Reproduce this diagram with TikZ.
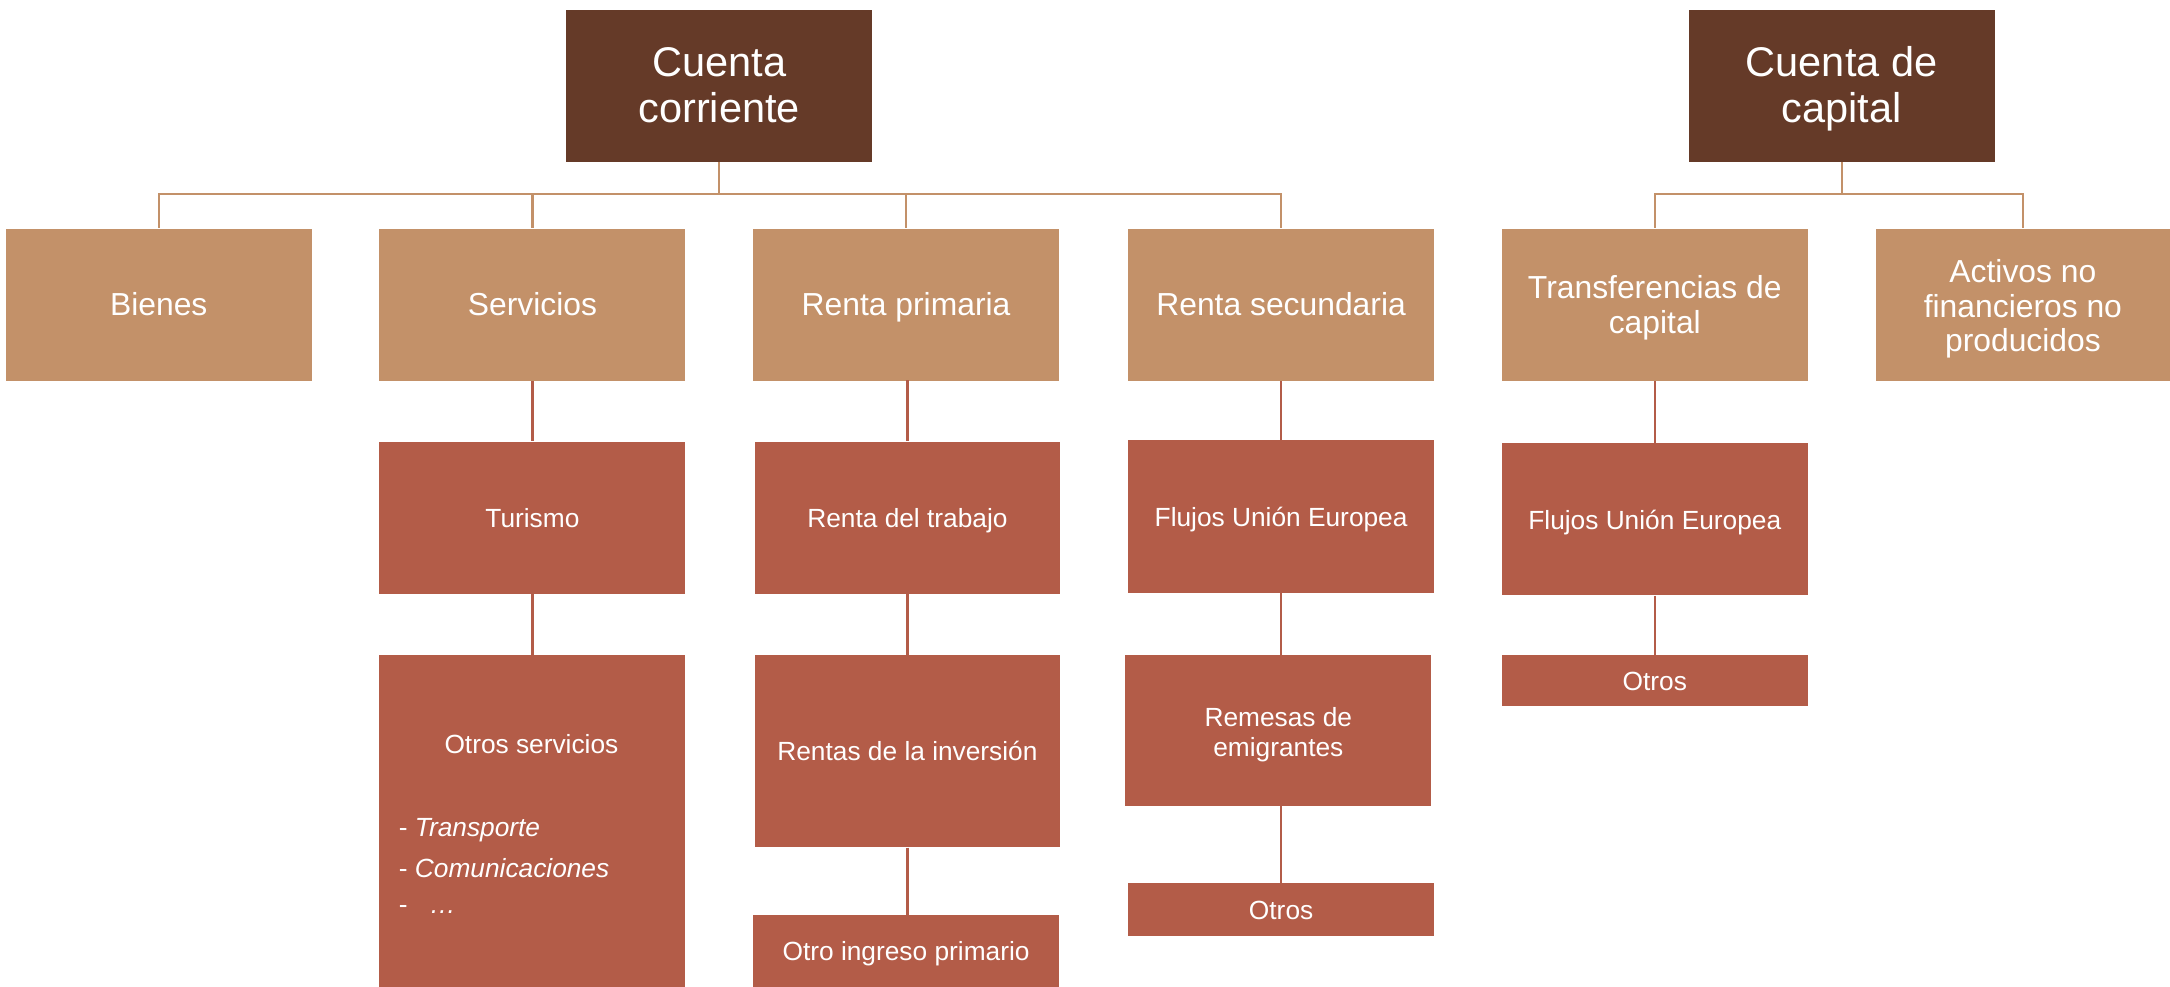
\documentclass[tikz,border=0pt]{standalone}
\usepackage{fontspec}
\setmainfont{Liberation Sans}
\definecolor{dark}{HTML}{653A28}
\definecolor{tan}{HTML}{C39169}
\definecolor{rust}{HTML}{B35C48}
\newcommand{\mystrut}{\vrule height .82\baselineskip depth .18\baselineskip width 0pt\relax}
\newcommand{\dn}[2]{\raisebox{-#1}[\height][\depth]{\begin{tabular}{@{}c@{}}#2\end{tabular}}}
\tikzset{
  box/.style={inner sep=0pt, text=white, align=center, anchor=north west,
    execute at begin node=\mystrut, execute at end node=\mystrut},
  top/.style={box, fill=dark, minimum width=221pt, minimum height=110pt, font=\fontsize{30}{33}\selectfont},
  mid/.style={box, fill=tan, minimum width=221pt, minimum height=110pt, font=\fontsize{23}{25}\selectfont},
  low/.style={box, fill=rust, minimum width=221pt, font=\fontsize{19}{22}\selectfont},
  lbl/.style={inner sep=0pt, text=white, font=\fontsize{19}{22}\selectfont},
  tanline/.style={draw=tan, line width=1.6pt},
  rustline/.style={draw=rust, line width=1.6pt},
}
\begin{document}
\begin{tikzpicture}[x=1pt, y=-1pt]
\useasboundingbox (0,0) rectangle (1568,713);
% top level
\node[top] (cc) at (409,7) {\dn{3pt}{Cuenta\\corriente}};
\node[top] (ck) at (1220,7) {\dn{3pt}{Cuenta de\\capital}};
% second level
\node[mid] (bien) at (4,165) {Bienes};
\node[mid] (serv) at (274,165) {Servicios};
\node[mid] (rp) at (544,165) {Renta primaria};
\node[mid] (rs) at (815,165) {Renta secundaria};
\node[mid] (tc) at (1085,165) {\dn{3pt}{Transferencias de\\capital}};
\node[mid, minimum width=213pt] (act) at (1355,165) {\dn{4pt}{Activos no\\financieros no\\producidos}};
% third level
\node[low, minimum height=110pt] (tur) at (274,319) {Turismo};
\node[low, minimum height=240pt] (os) at (274,473) {};
\node[lbl] (ost) at (384,538) {Otros servicios};
\node[lbl, anchor=west] (os1) at (288,600) {- \textit{Transporte}};
\node[lbl, anchor=west] (os2) at (288,627) {- \textit{Comunicaciones}};
\node[lbl, anchor=west] (os3) at (288,657) {-\ \ \ \textit{\dots}};
\node[low, minimum height=110pt] (rt) at (545,319) {Renta del trabajo};
\node[low, minimum height=139pt] (ri) at (545,473) {Rentas de la inversión};
\node[low, minimum height=52pt] (oi) at (544,661) {Otro ingreso primario};
\node[low, minimum height=110pt] (fue1) at (815,318) {Flujos Unión Europea};
\node[low, minimum height=109pt] (rem) at (813,473) {\dn{3.5pt}{Remesas de\\emigrantes}};
\node[low, minimum height=38pt] (ot1) at (815,638) {Otros};
\node[low, minimum height=110pt] (fue2) at (1085,320) {Flujos Unión Europea};
\node[low, minimum height=37pt] (ot2) at (1085,473) {Otros};
% connectors top -> second
\draw[tanline] (cc.south) -- ++(0,23) -| (bien.north);
\draw[tanline] (cc.south) -- ++(0,23) -| (serv.north);
\draw[tanline] (cc.south) -- ++(0,23) -| (rp.north);
\draw[tanline] (cc.south) -- ++(0,23) -| (rs.north);
\draw[tanline] (ck.south) -- ++(0,23) -| (tc.north);
\draw[tanline] (ck.south) -- ++(0,23) -| (act.north);
% connectors second -> third
\draw[rustline] (serv.south) -- (tur.north);
\draw[rustline] (tur.south) -- (os.north);
\draw[rustline] (rp.south) -- (rp.south -| rt.north) -- (rt.north);
\draw[rustline] (rt.south) -- (ri.north);
\draw[rustline] (ri.south) -- (ri.south |- oi.north);
\draw[rustline] (rs.south) -- (fue1.north);
\draw[rustline] (fue1.south) -- (fue1.south |- rem.north);
\draw[rustline] (rem.south -| ot1.north) -- (ot1.north);
\draw[rustline] (tc.south) -- (fue2.north);
\draw[rustline] (fue2.south) -- (ot2.north);
\end{tikzpicture}
\end{document}
